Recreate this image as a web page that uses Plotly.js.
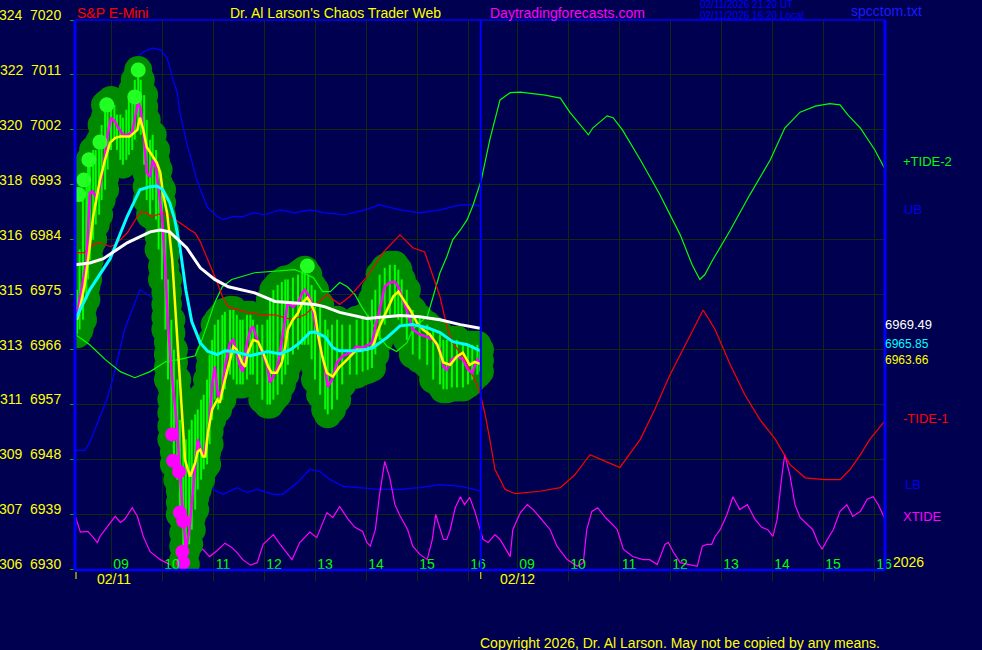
<!DOCTYPE html>
<html><head><meta charset="utf-8">
<script src="https://cdn.plot.ly/plotly-3.0.1.min.js"></script>
<style>html,body{margin:0;padding:0;background:#000050;}#chart{width:982px;height:650px;}</style>
</head><body><div id="chart"></div>
<script>
// ---------- DATA ----------
// Day-1 price samples (S&P E-mini, 02/11)
const closeTimes = ["08:20","08:23","08:27","08:31","08:33","08:35","08:39","08:42","08:46","08:49",
 "08:53","08:56","09:00","09:04","09:07","09:11","09:14","09:18","09:21","09:25",
 "09:28","09:32","09:35","09:39","09:42","09:46","09:49","09:53","09:56","10:00",
 "10:04","10:07","10:11","10:14","10:18","10:21","10:25","10:28","10:32","10:35",
 "10:39","10:42","10:46","10:49","10:53","10:56","10:59","11:02","11:06","11:11",
 "11:14","11:20","11:24","11:28","11:32","11:35","11:40","11:44","11:47","11:52",
 "11:58","12:04","12:07","12:11","12:16","12:21","12:25","12:28","12:34","12:40",
 "12:45","12:48","12:52","12:56","13:00","13:06","13:12","13:15","13:20","13:26",
 "13:32","13:41","13:49","13:56","14:02","14:07","14:11","14:16","14:22","14:28",
 "14:34","14:38","14:42","14:48","14:55","15:03","15:12","15:19","15:27","15:31",
 "15:35","15:41","15:47","15:54","16:00","16:05","16:11","16:14"];
const closeVals = [6971.7,6974.2,6977.5,6980.4,6985.6,6991.7,6991.9,6991.0,6992.2,6994.3,
 6997.9,7001.2,7004.0,7003.5,7002.7,7001.7,7001.2,7001.2,7001.3,7001.7,
 7004.1,7006.6,7005.3,7000.4,6995.0,6994.3,6997.1,6995.8,6992.2,6987.8,
 6979.1,6970.1,6962.7,6958.6,6952.9,6945.5,6938.2,6933.3,6936.2,6940.6,
 6946.4,6951.3,6949.3,6948.8,6951.3,6954.5,6960.3,6963.2,6958.3,6959.5,
 6963.2,6967.1,6967.6,6965.5,6963.2,6962.4,6967.1,6969.3,6969.8,6967.6,
 6965.5,6963.2,6960.6,6961.6,6963.2,6967.6,6970.4,6973.7,6973.0,6973.7,
 6975.3,6975.8,6975.0,6973.7,6970.4,6966.5,6962.7,6959.9,6961.1,6963.9,
 6964.9,6965.5,6966.5,6966.3,6966.8,6967.1,6969.8,6972.5,6976.3,6977.0,
 6977.1,6976.3,6974.7,6972.5,6969.3,6968.5,6968.1,6967.6,6966.0,6963.2,
 6962.7,6964.4,6964.9,6964.4,6962.7,6962.2,6964.4,6963.9];
const highVals = [6975.8,6982.4,6991.4,6993.8,6996.3,6997.1,6998.7,6998.7,7000.0,7002.8,
 7006.1,7006.4,7006.9,7006.1,7004.5,7004.5,7004.0,7005.3,7006.9,7008.5,
 7010.2,7011.8,7010.2,7007.7,7003.6,7000.4,7001.2,6998.7,6995.5,6992.2,
 6985.6,6977.5,6970.9,6966.0,6961.1,6954.5,6951.3,6951.3,6952.9,6954.5,
 6955.4,6956.2,6957.8,6958.6,6961.1,6965.2,6967.6,6970.1,6970.9,6971.7,
 6972.2,6972.5,6972.5,6971.7,6970.9,6970.9,6971.7,6971.7,6970.9,6970.1,
 6970.1,6970.9,6974.2,6975.8,6976.6,6977.1,6977.5,6977.5,6977.8,6978.3,
 6978.8,6979.1,6978.3,6976.6,6975.8,6973.4,6970.9,6969.3,6970.1,6970.9,
 6970.1,6970.1,6970.9,6971.2,6971.7,6974.2,6975.8,6978.3,6979.4,6979.9,
 6979.9,6979.1,6977.5,6975.8,6972.5,6971.2,6970.1,6969.3,6968.5,6967.6,
 6967.6,6967.6,6967.6,6966.8,6966.8,6966.8,6966.8,6966.0];
const lowVals = [6968.5,6969.3,6970.9,6974.2,6977.5,6980.7,6984.0,6986.5,6988.1,6990.5,
 6992.2,6995.5,6998.7,7000.4,6998.7,6997.1,6996.3,6997.1,6997.9,6998.7,
 7000.4,7002.0,7001.2,6996.3,6990.5,6988.1,6990.5,6987.3,6982.4,6977.5,
 6969.3,6961.1,6951.3,6947.2,6944.7,6939.0,6931.6,6930.8,6934.1,6936.5,
 6939.8,6943.1,6944.7,6946.4,6947.2,6950.5,6954.5,6957.8,6956.2,6957.8,
 6959.5,6961.9,6961.1,6960.3,6960.3,6960.3,6961.1,6961.9,6961.9,6960.3,
 6957.8,6957.0,6957.0,6957.8,6958.6,6960.3,6961.9,6963.5,6965.2,6966.0,
 6966.8,6966.8,6966.8,6964.4,6961.1,6958.6,6956.2,6955.4,6956.2,6957.8,
 6960.3,6961.9,6961.9,6962.4,6962.7,6963.0,6965.2,6967.6,6970.1,6971.7,
 6971.7,6970.9,6970.1,6967.6,6965.2,6964.4,6963.5,6961.1,6960.3,6959.5,
 6959.5,6959.8,6959.8,6959.8,6960.3,6961.1,6961.9,6962.4];

// Short average (yellow)
const yellowTimes = ["08:20","08:23","08:29","08:33","08:35","08:39","08:44","08:47","08:53","08:59",
 "09:05","09:11","09:22","09:31","09:34","09:38","09:42","09:48","09:54","09:58",
 "10:01","10:06","10:09","10:12","10:15","10:19","10:21","10:24","10:27","10:33",
 "10:35","10:39","10:42","10:45","10:48","10:51","10:54","10:59","11:05","11:08",
 "11:12","11:18","11:24","11:28","11:34","11:38","11:41","11:47","11:53","11:59",
 "12:05","12:09","12:15","12:21","12:25","12:28","12:34","12:40","12:45","12:51",
 "12:54","13:00","13:04","13:08","13:14","13:21","13:29","13:38","13:49","14:01",
 "14:08","14:16","14:25","14:32","14:38","14:44","14:52","15:00","15:07","15:15",
 "15:24","15:31","15:39","15:47","15:54","16:02","16:08","16:14"];
const yellowVals = [6970.9,6972.5,6976.6,6980.7,6982.9,6987.8,6991.7,6993.8,6997.1,6999.9,
 7000.7,7000.9,7000.9,7002.0,7004.0,7002.0,6999.2,6997.9,6996.6,6995.0,
 6991.7,6988.4,6984.0,6980.7,6974.2,6966.0,6961.1,6955.7,6948.0,6945.2,
 6945.9,6947.5,6949.3,6949.6,6948.5,6948.5,6952.4,6956.2,6957.8,6957.3,
 6959.9,6963.2,6966.5,6966.0,6963.9,6963.2,6965.5,6967.6,6967.3,6965.5,
 6963.2,6962.2,6962.2,6963.9,6966.5,6969.3,6970.9,6972.0,6973.7,6974.5,
 6973.9,6972.0,6968.1,6965.2,6962.2,6961.6,6963.2,6964.4,6966.0,6966.0,
 6966.5,6969.8,6972.5,6974.7,6975.5,6974.2,6972.5,6970.4,6969.3,6968.5,
 6966.8,6963.9,6963.5,6964.9,6965.5,6963.5,6964.0,6963.66];

// Medium average (cyan)
const cyanTimes = ["08:18","08:35","08:59","09:19","09:34","09:46","09:54","10:01","10:09","10:15",
 "10:21","10:28","10:35","10:45","10:54","11:05","11:14","11:24","11:44","12:04",
 "12:19","12:31","12:42","12:54","13:00","13:12","13:21","13:29","13:53","14:08",
 "14:25","14:40","14:55","15:12","15:27","15:42","15:59","16:14"];
const cyanVals = [6970.9,6975.8,6980.9,6987.8,6992.2,6992.7,6992.8,6992.2,6990.1,6987.3,
 6982.9,6975.8,6970.6,6967.1,6965.7,6965.2,6965.8,6965.7,6965.0,6965.7,
 6965.3,6966.0,6967.1,6968.8,6968.9,6968.1,6966.3,6965.8,6965.8,6966.3,
 6968.0,6969.9,6970.1,6969.6,6968.8,6967.3,6966.8,6965.85];

// Long average (white)
const whiteTimes = ["08:18","08:35","08:51","09:19","09:46","09:58","10:09","10:29","10:45","11:02",
 "11:18","11:49","12:13","12:36","13:00","13:12","13:29","14:01","14:40","15:03",
 "15:27","15:51","16:14"];
const whiteVals = [6979.9,6980.2,6980.9,6983.5,6985.3,6985.6,6985.3,6982.7,6979.4,6977.5,
 6976.3,6975.3,6973.9,6973.7,6973.4,6973.0,6972.1,6971.1,6971.6,6971.4,
 6970.9,6970.1,6969.49];

// Swing-high dots (bright green) and swing-low dots (magenta)
const highDotTimes = ["08:22","08:28","08:34","08:47","08:55","09:28","09:32","12:51"];
const highDotVals  = [6991.4,6993.8,6997.1,7000.0,7006.1,7007.4,7011.8,6979.7];
const lowDotTimes  = ["10:12","10:13","10:20","10:21","10:25","10:24","10:25"];
const lowDotVals   = [6952.1,6947.8,6946.0,6939.3,6937.9,6932.9,6931.1];

// Upper / lower bands (day 1)
const ubTimes = ["08:33","08:47","08:59","09:11","09:19","09:31","09:38","09:49","09:58","10:06",
 "10:13","10:18","10:21","10:29","10:41","10:53","11:05","11:12","11:24","11:35",
 "11:47","12:01","12:19","12:36","12:54","13:12","13:35","13:59","14:16","14:40",
 "15:03","15:27","15:51","16:08","16:15"];
const ubVals = [6993.8,7000.4,7004.5,7006.9,7010.2,7013.9,7014.8,7015.4,7015.1,7013.8,
 7010.2,7008.1,7004.8,6999.9,6993.8,6989.4,6987.8,6987.3,6987.8,6987.8,
 6988.4,6988.1,6988.9,6988.4,6988.9,6988.4,6988.1,6988.9,6989.7,6988.9,
 6988.4,6988.9,6989.7,6989.7,6989.4];
const lbTimes = ["08:18","08:29","08:35","08:44","08:55","09:02","09:16","09:34","09:52","10:09",
 "10:27","10:45","11:00","11:12","11:28","11:40","11:52","12:11","12:22","12:39",
 "12:54","13:06","13:18","13:33","13:53","14:16","14:40","15:03","15:27","15:51",
 "16:08","16:15"];
const lbVals = [6949.5,6949.5,6950.8,6954.1,6957.8,6961.1,6969.3,6975.8,6974.2,6964.4,
 6952.9,6944.7,6943.1,6942.3,6943.4,6942.6,6943.1,6942.3,6942.3,6944.2,
 6946.4,6946.0,6944.7,6943.6,6943.4,6943.1,6943.1,6943.4,6943.9,6943.6,
 6943.1,6942.8];

// +TIDE-2 (green), both days
const tide2Times = ["02/11 08:18","02/11 08:35","02/11 08:53","02/11 09:11","02/11 09:28","02/11 09:46","02/11 10:04","02/11 10:21","02/11 10:39","02/11 10:47",
 "02/11 10:54","02/11 11:02","02/11 11:11","02/11 11:22","02/11 11:49","02/11 12:13","02/11 12:36","02/11 12:42","02/11 12:58","02/11 13:09",
 "02/11 13:18","02/11 13:29","02/11 13:38","02/11 13:47","02/11 13:55","02/11 14:05","02/11 14:16","02/11 14:25","02/11 14:36","02/11 14:48",
 "02/11 14:55","02/11 15:03","02/11 15:12","02/11 15:19","02/11 15:27","02/11 15:35","02/11 15:42","02/11 15:51","02/11 15:59","02/11 16:06",
 "02/11 16:14",
 "02/12 08:18","02/12 08:28","02/12 08:40","02/12 08:52","02/12 09:04","02/12 09:33","02/12 09:51","02/12 10:02","02/12 10:14","02/12 10:24",
 "02/12 10:29","02/12 10:38","02/12 10:46","02/12 10:53","02/12 11:04","02/12 11:25","02/12 11:48","02/12 12:12","02/12 12:26","02/12 12:35",
 "02/12 12:41","02/12 12:49","02/12 13:11","02/12 13:34","02/12 13:58","02/12 14:15","02/12 14:33","02/12 14:51","02/12 15:08","02/12 15:20",
 "02/12 15:29","02/12 15:44","02/12 16:01","02/12 16:12"];
const tide2Vals = [6968.5,6966.8,6964.4,6962.4,6961.4,6962.4,6964.0,6964.4,6965.0,6967.6,
 6970.4,6973.7,6976.3,6977.5,6978.6,6978.8,6979.1,6978.8,6977.8,6975.5,
 6975.5,6977.0,6976.3,6975.0,6973.0,6970.9,6968.1,6966.5,6965.7,6967.1,
 6969.3,6970.4,6971.4,6974.7,6978.6,6981.2,6984.0,6985.6,6987.3,6989.7,
 6993.0,
 6993.8,7000.4,7006.9,7008.1,7008.2,7007.7,7007.2,7004.9,7002.8,7001.2,
 7002.3,7003.3,7004.3,7004.0,7002.0,6997.1,6991.4,6984.8,6979.9,6977.5,
 6978.3,6980.4,6985.6,6991.4,6997.1,7002.3,7004.9,7005.9,7006.3,7006.1,
 7004.5,7002.3,6998.7,6995.8];

// -TIDE-1 (red), both days
const tide1Times = ["02/11 08:18","02/11 08:29","02/11 08:39","02/11 08:47","02/11 08:59","02/11 09:05","02/11 09:19","02/11 09:31","02/11 09:36","02/11 09:42",
 "02/11 09:48","02/11 09:54","02/11 10:01","02/11 10:09","02/11 10:21","02/11 10:33","02/11 10:39","02/11 10:45","02/11 10:54","02/11 11:05",
 "02/11 11:11","02/11 11:18","02/11 11:38","02/11 11:58","02/11 12:13","02/11 12:33","02/11 12:48","02/11 13:04","02/11 13:14","02/11 13:29",
 "02/11 13:41","02/11 14:01","02/11 14:20","02/11 14:40","02/11 14:55","02/11 15:09","02/11 15:19","02/11 15:27","02/11 15:35","02/11 15:42",
 "02/11 15:54","02/11 16:06","02/11 16:14",
 "02/12 08:22","02/12 08:28","02/12 08:34","02/12 08:46","02/12 08:58","02/12 09:27","02/12 09:51","02/12 10:08","02/12 10:26","02/12 10:44",
 "02/12 11:01","02/12 11:25","02/12 11:42","02/12 12:00","02/12 12:18","02/12 12:39","02/12 12:53","02/12 13:11","02/12 13:28","02/12 13:46",
 "02/12 14:04","02/12 14:21","02/12 14:39","02/12 15:02","02/12 15:20","02/12 15:32","02/12 15:44","02/12 15:55","02/12 16:12"];
const tide1Vals = [6981.9,6981.9,6983.2,6983.5,6982.9,6983.2,6985.1,6987.8,6988.6,6988.4,
 6987.8,6988.1,6988.4,6987.8,6986.8,6985.6,6985.1,6983.7,6980.7,6977.0,
 6974.7,6973.0,6972.2,6971.7,6971.7,6970.9,6971.7,6973.7,6975.0,6973.4,
 6974.7,6977.9,6981.9,6984.8,6982.7,6982.0,6977.9,6974.7,6969.8,6967.1,
 6964.9,6961.6,6959.0,
 6955.7,6951.3,6946.4,6943.1,6942.4,6942.8,6943.4,6945.5,6948.8,6947.7,
 6946.7,6951.3,6956.2,6961.9,6966.8,6972.5,6969.3,6963.5,6958.6,6954.5,
 6951.3,6947.2,6945.0,6944.7,6944.7,6946.4,6948.8,6951.3,6954.2];

// XTIDE (magenta, bottom), both days
const xtideTimes = ["02/11 08:18","02/11 08:24","02/11 08:29","02/11 08:33","02/11 08:38","02/11 08:44","02/11 08:47","02/11 08:53","02/11 08:59","02/11 09:05",
 "02/11 09:11","02/11 09:16","02/11 09:25","02/11 09:31","02/11 09:38","02/11 09:46","02/11 09:58","02/11 10:09","02/11 10:21","02/11 10:33",
 "02/11 10:41","02/11 10:48","02/11 10:56","02/11 11:05","02/11 11:14","02/11 11:22","02/11 11:28","02/11 11:35","02/11 11:44","02/11 11:52",
 "02/11 11:59","02/11 12:11","02/11 12:19","02/11 12:33","02/11 12:42","02/11 12:54","02/11 13:02","02/11 13:08","02/11 13:14","02/11 13:21",
 "02/11 13:29","02/11 13:39","02/11 13:47","02/11 13:56","02/11 14:01","02/11 14:05","02/11 14:11","02/11 14:16","02/11 14:22","02/11 14:28",
 "02/11 14:34","02/11 14:40","02/11 14:49","02/11 14:55","02/11 15:03","02/11 15:12","02/11 15:18","02/11 15:22","02/11 15:27","02/11 15:31",
 "02/11 15:35","02/11 15:39","02/11 15:45","02/11 15:51","02/11 15:56","02/11 16:02","02/11 16:08","02/11 16:14",
 "02/12 08:20","02/12 08:26","02/12 08:34","02/12 08:40","02/12 08:52","02/12 08:55","02/12 09:04","02/12 09:12","02/12 09:19","02/12 09:27",
 "02/12 09:39","02/12 09:47","02/12 09:59","02/12 10:11","02/12 10:18","02/12 10:22","02/12 10:28","02/12 10:35","02/12 10:44","02/12 10:52",
 "02/12 10:58","02/12 11:05","02/12 11:16","02/12 11:28","02/12 11:36","02/12 11:45","02/12 11:54","02/12 11:58","02/12 12:04","02/12 12:12",
 "02/12 12:32","02/12 12:38","02/12 12:43","02/12 12:49","02/12 12:53","02/12 12:59","02/12 13:07","02/12 13:14","02/12 13:22","02/12 13:31",
 "02/12 13:40","02/12 13:48","02/12 13:55","02/12 14:01","02/12 14:06","02/12 14:11","02/12 14:15","02/12 14:21","02/12 14:27","02/12 14:33",
 "02/12 14:41","02/12 14:48","02/12 14:54","02/12 14:59","02/12 15:05","02/12 15:12","02/12 15:20","02/12 15:28","02/12 15:35","02/12 15:44",
 "02/12 15:52","02/12 15:59","02/12 16:05","02/12 16:12"];
const xtideVals = [6938.7,6936.1,6936.2,6936.2,6935.4,6934.4,6935.4,6936.5,6937.7,6938.7,
 6937.7,6938.2,6940.1,6938.7,6935.4,6932.9,6931.6,6930.8,6930.5,6931.6,
 6932.8,6933.3,6932.1,6933.1,6934.3,6933.6,6932.8,6931.6,6930.7,6931.1,
 6934.1,6935.7,6934.1,6931.6,6934.4,6936.1,6935.2,6937.4,6939.3,6938.5,
 6940.3,6938.2,6936.9,6936.2,6934.4,6933.8,6936.5,6942.3,6947.7,6945.0,
 6940.6,6938.8,6936.5,6933.8,6932.5,6931.6,6934.9,6939.0,6936.5,6934.9,
 6934.9,6936.5,6940.1,6941.9,6940.6,6941.8,6939.5,6936.5,
 6934.9,6934.4,6935.7,6934.9,6932.1,6936.5,6939.3,6940.6,6939.8,6938.5,
 6936.5,6933.8,6931.6,6930.5,6931.1,6936.5,6939.5,6940.1,6938.5,6937.4,
 6936.5,6933.3,6932.1,6931.6,6931.6,6930.8,6934.1,6934.4,6932.8,6931.1,
 6930.5,6933.8,6934.1,6934.1,6935.4,6936.5,6939.0,6941.9,6939.8,6940.6,
 6938.2,6936.9,6936.5,6935.4,6938.2,6944.7,6948.8,6945.5,6940.6,6938.5,
 6937.4,6936.5,6934.4,6933.3,6934.9,6936.5,6939.5,6940.6,6938.7,6939.5,
 6941.5,6941.9,6940.6,6938.5];

// Axis labels
const priceTicks = [6930,6939,6948,6957,6966,6975,6984,6993,7002,7011,7020];
const altTicks   = ["306","307","309","311","313","315","316","318","320","322","324"];
const hourTicks  = [9,10,11,12,13,14,15,16];
const hourLabels = ["09","10","11","12","13","14","15","16"];

// ---------- LAYOUT CONSTANTS ----------
const DAY2_SHIFT = 7.961;      // axis hours between 02/11 and 02/12 session clocks
const DAY_END = 16.25;         // end of day-1 session on axis
const X_RANGE = [8.294, 24.176];
const Y_RANGE = [6929.9, 7020];
const GRID = '#102a10';
const BG = '#000050';
const FONT = 'Liberation Sans, Arial, sans-serif';

function tx(s){
  let day = 1, t = s;
  if (s.indexOf(' ') > 0){ const p = s.split(' '); day = (p[0] === '02/12') ? 2 : 1; t = p[1]; }
  const hm = t.split(':').map(Number);
  return hm[0] + hm[1]/60 + (day === 2 ? DAY2_SHIFT : 0);
}
const X = arr => arr.map(tx);

// blobs & bars from high/low
const blobX = [], blobY = [], barX = [], barY = [];
closeTimes.forEach((t, i) => {
  const x = tx(t), h = highVals[i], l = lowVals[i];
  const n = Math.max(1, Math.ceil((h - l) / 2.2));
  for (let k = 0; k <= n; k++){ blobX.push(x); blobY.push(l + (h - l) * k / n); }
  barX.push(x, x, null); barY.push(l, h, null);
});

const line = (x, y, color, width) => ({type:'scatter', mode:'lines', x, y, line:{color, width}, hoverinfo:'skip'});

const traces = [
  line(X(ubTimes), ubVals, '#0000ff', 1.2),
  line(X(lbTimes), lbVals, '#0000ff', 1.2),
  line(X(xtideTimes), xtideVals, '#ff00ff', 1.2),
  {type:'scatter', mode:'markers', x:blobX, y:blobY, marker:{color:'#008a00', size:28, line:{width:0}}, hoverinfo:'skip'},
  {type:'scatter', mode:'lines', x:barX, y:barY, line:{color:'#00ff00', width:2}, hoverinfo:'skip', connectgaps:false},
  line(X(tide2Times), tide2Vals, '#00ff00', 1.2),
  line(X(tide1Times), tide1Vals, '#ff0000', 1.2),
  line(X(closeTimes), closeVals, '#ff00ff', 2.5),
  line(X(yellowTimes), yellowVals, '#ffff00', 2.5),
  line(X(cyanTimes), cyanVals, '#00ffff', 3),
  line(X(whiteTimes), whiteVals, '#ffffff', 3),
  {type:'scatter', mode:'markers', x:X(highDotTimes), y:highDotVals, marker:{color:'#22ff22', size:15}, hoverinfo:'skip'},
  {type:'scatter', mode:'markers', x:X(lowDotTimes), y:lowDotVals, marker:{color:'#ff00ff', size:14}, hoverinfo:'skip'}
];

const px = v => (v - 75) / 810;
const py = v => (570 - v) / 550;
function ann(text, x, y, color, size, anchor){
  return {text, xref:'paper', yref:'paper', x:px(x), y:py(y), xanchor:anchor||'left', yanchor:'middle',
          showarrow:false, font:{family:FONT, size:size||14, color}, borderpad:0};
}

const layout = {
  width:982, height:650, paper_bgcolor:BG, plot_bgcolor:BG, showlegend:false,
  margin:{l:75, r:97, t:20, b:80},
  xaxis:{range:X_RANGE, tickmode:'array',
    tickvals: hourTicks.concat(hourTicks.map(h => h + DAY2_SHIFT)),
    ticktext: hourLabels.concat(hourLabels),
    showgrid:true, gridcolor:GRID, gridwidth:1, zeroline:false, showline:false,
    ticks:'outside', ticklen:10, tickcolor:GRID, tickwidth:1,
    ticklabelposition:'inside', ticklabelshift:10, ticklabelstandoff:-5, ticklabeloverflow:'allow',
    tickfont:{family:FONT, size:14, color:'#00ff00'}, fixedrange:true},
  yaxis:{range:Y_RANGE, tickmode:'array', tickvals:priceTicks,
    ticktext: priceTicks.map((p,i) => altTicks[i] + '\u00a0\u00a0' + p),
    showgrid:true, gridcolor:GRID, gridwidth:1, zeroline:false, showline:false,
    ticks:'outside', ticklen:4, tickcolor:'#00aa00', ticklabelstandoff:6, ticklabelshift:-5,
    ticklabeloverflow:'allow',
    tickfont:{family:FONT, size:14, color:'#ffff00'}, fixedrange:true},
  shapes:[
    {type:'line', xref:'paper', yref:'paper', x0:0, x1:0, y0:0, y1:1, line:{color:'#0000ff', width:3}},
    {type:'line', xref:'paper', yref:'paper', x0:1, x1:1, y0:0, y1:1, line:{color:'#0000ff', width:3}},
    {type:'line', xref:'paper', yref:'paper', x0:0, x1:1, y0:1, y1:1, line:{color:'#0000ff', width:1.5}},
    {type:'line', xref:'paper', yref:'paper', x0:0, x1:1, y0:0, y1:0, line:{color:'#0000ff', width:2.5}},
    {type:'line', xref:'x', yref:'paper', x0:DAY_END, x1:DAY_END, y0:0, y1:1, line:{color:'#0000ff', width:2}},
    {type:'line', xref:'paper', yref:'paper', x0:px(76), x1:px(76), y0:py(572), y1:py(579), line:{color:'#ffff00', width:1}},
    {type:'line', xref:'x', yref:'paper', x0:DAY_END, x1:DAY_END, y0:py(572), y1:py(579), line:{color:'#ffff00', width:1}}
  ],
  annotations:[
    ann('S&P E-Mini', 76, 13, '#ff0000', 14),
    ann("Dr. Al Larson's Chaos Trader Web", 229, 13, '#ffff00', 14),
    ann('Daytradingforecasts.com', 489, 13, '#ff00ff', 14),
    ann('02/11/2026 21:20 UT', 699, 5, '#0000ff', 10),
    ann('02/11/2026 16:20 Local', 699, 15, '#0000ff', 10),
    ann('spcctom.txt', 850, 11, '#1a1aff', 14),
    ann('Copyright 2026, Dr. Al Larson. May not be copied by any means.', 479, 643, '#ffff00', 14),
    ann('02/11', 96, 579, '#ffff00', 14),
    ann('02/12', 499, 579, '#ffff00', 14),
    ann('2026', 892, 562, '#ffff00', 14),
    ann('+TIDE-2', 902, 161, '#00ff00', 13),
    ann('UB', 903, 209, '#0000ee', 13),
    ann('6969.49', 884, 324, '#ffffff', 13),
    ann('6965.85', 884, 344, '#00ffff', 12),
    ann('6963.66', 884, 360, '#ffff00', 12),
    ann('-TIDE-1', 902, 418, '#ff0000', 13),
    ann('LB', 904, 484, '#0000ee', 13),
    ann('XTIDE', 902, 516, '#ff00ff', 13)
  ]
};

Plotly.newPlot('chart', traces, layout, {displayModeBar:false, staticPlot:true});
</script></body></html>
